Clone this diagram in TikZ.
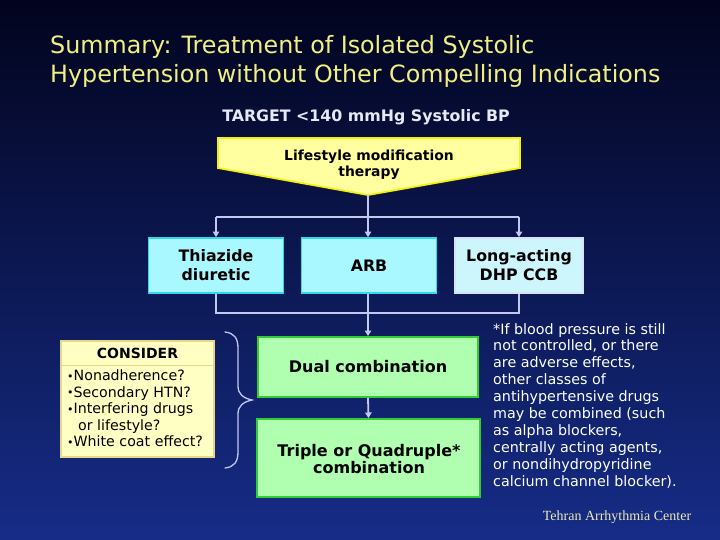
\documentclass[tikz,border=0pt]{standalone}
\usepackage{fontspec}
\setmainfont{DejaVu Sans}
\newfontfamily\serffont{Liberation Serif}
\usetikzlibrary{arrows.meta}
\definecolor{bgtop}{RGB}{2,4,30}
\definecolor{bgbot}{RGB}{22,44,135}
\definecolor{titley}{RGB}{240,240,130}
\definecolor{conn}{RGB}{195,200,240}
\definecolor{cyanfill}{RGB}{170,248,255}
\definecolor{cyanline}{RGB}{50,215,240}
\definecolor{ltfill}{RGB}{205,245,252}
\definecolor{ltline}{RGB}{215,225,250}
\definecolor{grfill}{RGB}{176,255,176}
\definecolor{grline}{RGB}{50,205,50}
\definecolor{yfill}{RGB}{255,255,160}
\definecolor{yline}{RGB}{245,240,20}
\definecolor{cfill}{RGB}{255,255,195}
\definecolor{cline}{RGB}{230,215,140}
\definecolor{creditc}{RGB}{235,235,180}
\newcommand{\bul}{{\fontsize{11}{11}\selectfont\raisebox{0.8pt}{•}}}
\begin{document}
\begin{tikzpicture}[x=1pt,y=-1pt,
  conline/.style={draw=conn, line width=1.8pt},
  conarrow/.style={conline, -{Triangle[width=6.5pt,length=5.5pt]}},
  drugbox/.style={rectangle, draw=cyanline, fill=cyanfill, line width=1.8pt, inner sep=0pt,
    minimum width=135pt, minimum height=55pt, align=center, font=\bfseries\fontsize{15.8}{19}\selectfont},
  combbox/.style={rectangle, draw=grline, fill=grfill, line width=2pt, inner sep=0pt,
    minimum width=220pt, align=center, font=\bfseries\fontsize{16}{15}\selectfont},
  txt/.style={inner sep=0pt, align=left}
]
\shade[top color=bgtop, bottom color=bgbot] (0,0) rectangle (720,540);
\useasboundingbox (0,0) rectangle (720,540);

% title
\node[txt, anchor=west, text=titley, font=\fontsize{23.8}{29}\selectfont] (title) at (50,61.5)
  {Summary: Treatment of Isolated Systolic\\Hypertension without Other Compelling Indications};
\node[inner sep=0pt, text={rgb,255:red,230;green,232;blue,245}, font=\bfseries\fontsize{15.8}{17}\selectfont] (target) at (366,117) {TARGET <140 mmHg Systolic BP};

% lifestyle pentagon
\draw[fill=yfill, draw=yline, line width=1.8pt] (218,138) -- (520,138) -- (520,168) -- (368,195) -- (218,168) -- cycle;
\coordinate (tip) at (368,195);
\node[inner sep=0pt, align=center, font=\bfseries\fontsize{13.9}{16}\selectfont] (life) at (369,165) {Lifestyle modification\\therapy};

% drug boxes
\node[drugbox] (thz) at (216,265.5) {Thiazide\\diuretic};
\node[drugbox] (arb) at (369,265.5) {ARB};
\node[drugbox, draw=ltline, fill=ltfill, minimum width=128pt] (ccb) at (519,265.5) {Long-acting\\DHP CCB};

% top connectors
\coordinate (split) at (368,217);
\coordinate (splitL) at (216,217);
\coordinate (splitR) at (519,217);
\draw[conline] (tip) -- (split);
\draw[conline] (splitL) -- (splitR);
\draw[conarrow] (splitL) -- (thz.north);
\draw[conarrow] (split) -- (split |- arb.north);
\draw[conarrow] (splitR) -- (ccb.north);

% combination boxes
\node[combbox, minimum height=60pt] (dual) at (368,367) {Dual combination};
\node[combbox, minimum width=223pt, minimum height=78pt] (triple) at (368.5,458) {};
\node[inner sep=0pt, align=center, font=\bfseries\fontsize{16}{14.5}\selectfont] (tripletxt) at (369,459)
  {Triple or Quadruple*\\combination};

% lower connectors
\coordinate (joinL) at (216,313);
\coordinate (joinM) at (368,313);
\coordinate (joinR) at (519,313);
\draw[conline] (thz.south) -- (joinL) -- (joinR) -- (ccb.south);
\draw[conline] (arb.south -| joinM) -- (joinM);
\draw[conarrow] (joinM) -- (joinM |- dual.north);
\draw[conarrow] (dual.south) -- (triple.north);

% consider box
\node[rectangle, draw=cline, fill=cfill, line width=1.2pt, minimum width=153pt, minimum height=116pt, inner sep=0pt] (cons) at (137.5,399) {};
\draw[cline, line width=1pt] (61,365) -- (214,365);
\node[inner sep=0pt, font=\bfseries\fontsize{14}{14}\selectfont] (conshead) at (137.5,353) {CONSIDER};
\node[txt, anchor=north west, font=\fontsize{14.2}{16.5}\selectfont] (conslist) at (67,370)
  {\bul Nonadherence?\\
   \bul Secondary HTN?\\
   \bul Interfering drugs\\
   \phantom{\bul} or lifestyle?\\
   \bul White coat effect?};

% brace
\draw[conn, line width=1.3pt, line cap=round]
  (225,332) .. controls (234,333) and (238,338) .. (238,348)
  -- (238,386) .. controls (238,394) and (243,398) .. (252,400)
  .. controls (243,402) and (238,406) .. (238,414)
  -- (238,452) .. controls (238,462) and (234,467) .. (225,468);

% footnote
\node[txt, anchor=north west, text=white, font=\fontsize{14.3}{16.9}\selectfont] (note) at (493,323)
  {*If blood pressure is still\\
   not controlled, or there\\
   are adverse effects,\\
   other classes of\\
   antihypertensive drugs\\
   may be combined (such\\
   as alpha blockers,\\
   centrally acting agents,\\
   or nondihydropyridine\\
   calcium channel blocker).};

\node[inner sep=0pt, text=creditc, font=\serffont\fontsize{14}{14}\selectfont] (credit) at (617,517) {Tehran Arrhythmia Center};
\end{tikzpicture}
\end{document}
